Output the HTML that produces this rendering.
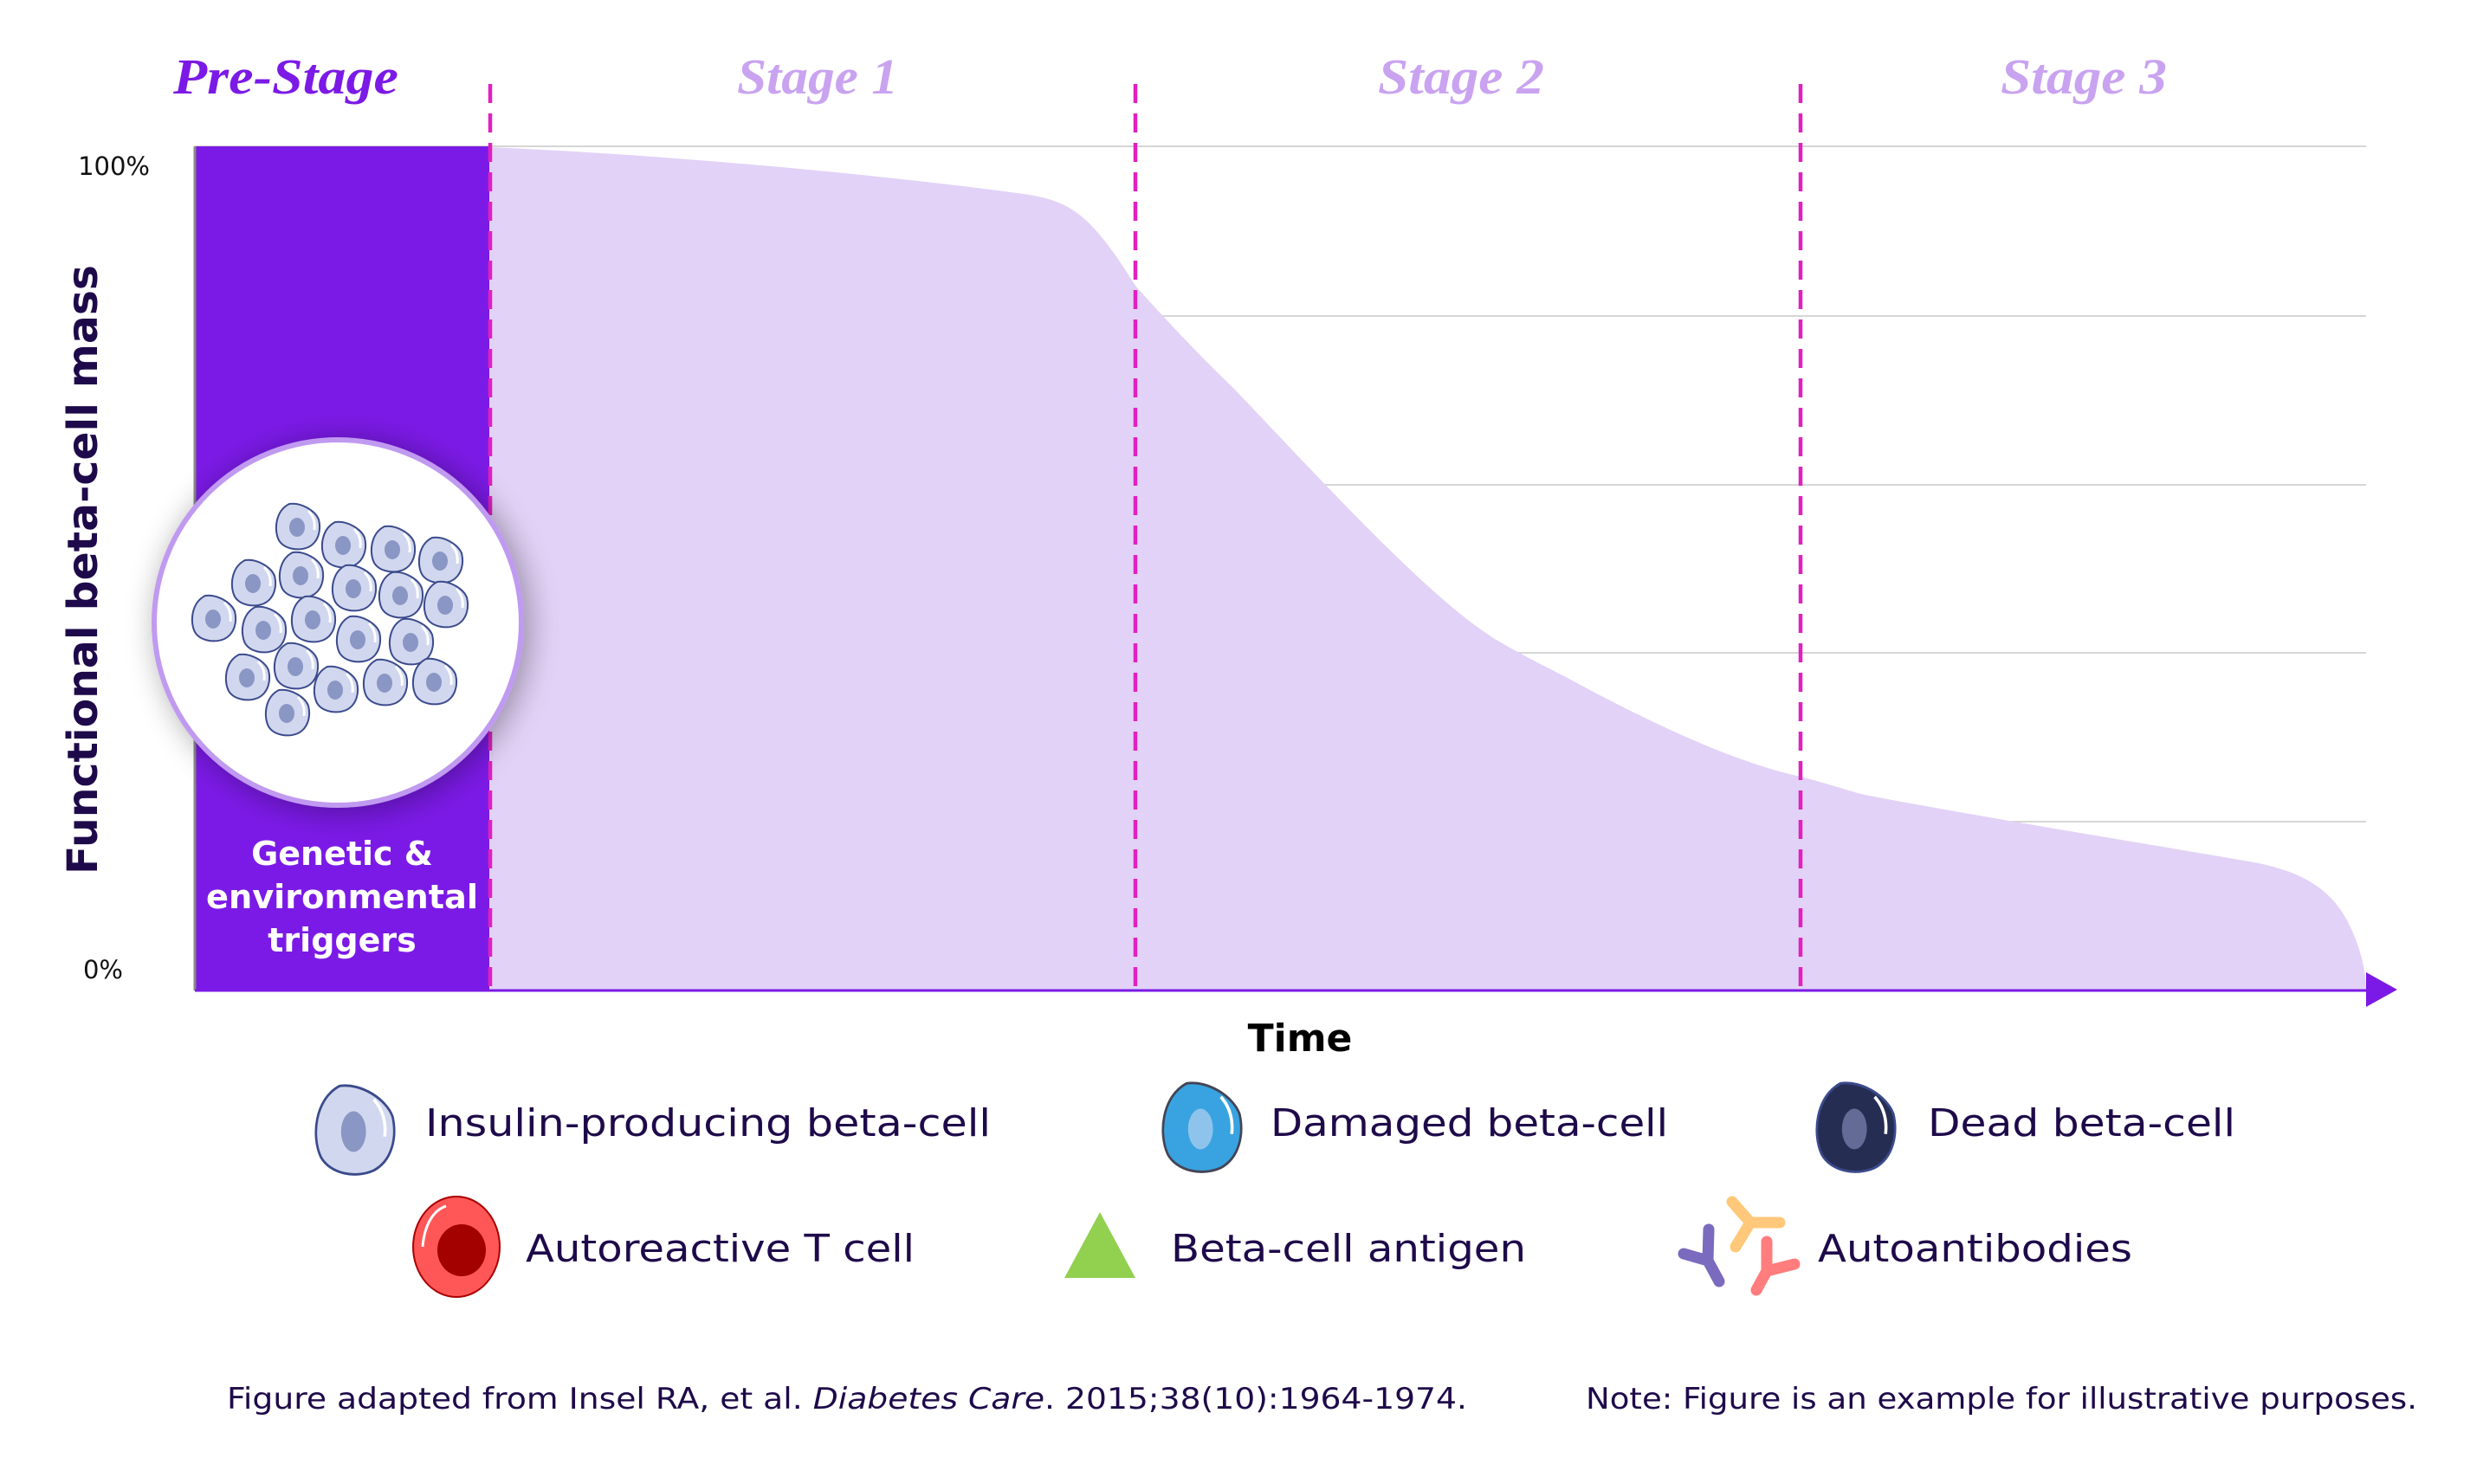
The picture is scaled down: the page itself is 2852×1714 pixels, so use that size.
<!DOCTYPE html>
<html><head><meta charset="utf-8"><style>html,body{margin:0;padding:0;background:#fff}svg{display:block}</style></head>
<body>
<svg width="2852" height="1714" viewBox="0 0 2852 1714" xmlns="http://www.w3.org/2000/svg" font-family="'DejaVu Sans','Liberation Sans',sans-serif">
<defs>
<filter id="sh" x="-30%" y="-30%" width="160%" height="160%"><feGaussianBlur in="SourceAlpha" stdDeviation="18"/><feOffset dx="6" dy="4"/><feComponentTransfer><feFuncA type="linear" slope="0.35"/></feComponentTransfer><feMerge><feMergeNode/><feMergeNode in="SourceGraphic"/></feMerge></filter>
<g id="cell"><path d="M-10,-26 C4,-28 20,-18 24,-8 C27,4 24,18 12,24 C0,29 -16,26 -22,16 C-28,4 -26,-18 -10,-26Z" fill="#d1d7ee" stroke="#3b4a8c" stroke-width="2"/><path d="M12,-18 C18,-12 20,-4 19,4" stroke="#fff" stroke-width="3" fill="none"/><ellipse cx="-1" cy="1" rx="9" ry="11" fill="#8a96c4"/></g>
</defs>
<g stroke="#c8c8c8" stroke-width="1.5">
<line x1="225" y1="169" x2="2732" y2="169"/><line x1="225" y1="365" x2="2732" y2="365"/><line x1="225" y1="560" x2="2732" y2="560"/><line x1="225" y1="754" x2="2732" y2="754"/><line x1="225" y1="949" x2="2732" y2="949"/>
</g>
<path d="M565,1144 L565,170 C800,180 1050,206 1182,224 C1235,232 1258,245 1311,330 C1360,385 1400,425 1425,449 C1540,570 1650,690 1726,738 C1760,758 1785,770 1808,782 C1900,832 2000,880 2079,897 C2110,905 2130,912 2153,918 C2300,946 2500,978 2608,997 C2670,1010 2700,1035 2718,1080 C2728,1105 2732,1125 2732,1144 Z" fill="#e2d2f7"/>
<rect x="225" y="169" width="340" height="975" fill="#7b1ae6"/>
<line x1="225" y1="169" x2="225" y2="1144" stroke="#888" stroke-width="3"/>
<line x1="225" y1="1144" x2="2740" y2="1144" stroke="#7b1ae6" stroke-width="3"/>
<polygon points="2732,1123 2768,1143 2732,1163" fill="#7b1ae6"/>
<g stroke="#e020c0" stroke-width="4.5" stroke-dasharray="22,12">
<line x1="566" y1="97" x2="566" y2="1144"/><line x1="1311" y1="97" x2="1311" y2="1144"/><line x1="2079" y1="97" x2="2079" y2="1144"/>
</g>
<g font-family="'Liberation Serif',serif" font-style="italic" font-weight="bold" font-size="58" text-anchor="middle">
<text x="330" y="108" fill="#7b1ae6" textLength="260" lengthAdjust="spacingAndGlyphs">Pre-Stage</text>
<text x="944" y="108" fill="#c9a3f0" textLength="186" lengthAdjust="spacingAndGlyphs">Stage 1</text>
<text x="1687" y="108" fill="#c9a3f0" textLength="192" lengthAdjust="spacingAndGlyphs">Stage 2</text>
<text x="2406" y="108" fill="#c9a3f0" textLength="192" lengthAdjust="spacingAndGlyphs">Stage 3</text>
</g>
<text x="173" y="202" font-size="29" text-anchor="end" fill="#111">100%</text>
<text x="142" y="1130" font-size="29" text-anchor="end" fill="#111">0%</text>
<text transform="translate(112,658) rotate(-90)" font-size="48" font-weight="bold" fill="#1e0a4a" text-anchor="middle" textLength="704" lengthAdjust="spacingAndGlyphs">Functional beta-cell mass</text>
<text x="1501" y="1214" font-size="44" font-weight="bold" fill="#000" text-anchor="middle">Time</text>
<g font-size="38" font-weight="bold" fill="#fff" text-anchor="middle">
<text x="395" y="999">Genetic &amp;</text>
<text x="395" y="1049" textLength="314" lengthAdjust="spacingAndGlyphs">environmental</text>
<text x="395" y="1099">triggers</text>
</g>
<ellipse cx="390" cy="719" rx="212" ry="211" fill="#fff" stroke="#c09af0" stroke-width="6" filter="url(#sh)"/>
<g>
<use href="#cell" x="344" y="608"/><use href="#cell" x="397" y="629"/><use href="#cell" x="454" y="634"/><use href="#cell" x="509" y="647"/>
<use href="#cell" x="293" y="673"/><use href="#cell" x="348" y="664"/><use href="#cell" x="409" y="679"/><use href="#cell" x="463" y="687"/><use href="#cell" x="515" y="698"/>
<use href="#cell" x="247" y="714"/><use href="#cell" x="305" y="727"/><use href="#cell" x="362" y="715"/><use href="#cell" x="414" y="738"/><use href="#cell" x="475" y="741"/>
<use href="#cell" x="286" y="782"/><use href="#cell" x="342" y="769"/><use href="#cell" x="388" y="796"/><use href="#cell" x="445" y="788"/><use href="#cell" x="502" y="787"/><use href="#cell" x="332" y="823"/>
</g>
<g fill="#1e0a4a" font-size="44">
<text x="491" y="1312" textLength="653" lengthAdjust="spacingAndGlyphs">Insulin-producing beta-cell</text>
<text x="1467" y="1312" textLength="459" lengthAdjust="spacingAndGlyphs">Damaged beta-cell</text>
<text x="2226" y="1312" textLength="355" lengthAdjust="spacingAndGlyphs">Dead beta-cell</text>
<text x="607" y="1457" textLength="449" lengthAdjust="spacingAndGlyphs">Autoreactive T cell</text>
<text x="1352" y="1457" textLength="410" lengthAdjust="spacingAndGlyphs">Beta-cell antigen</text>
<text x="2099" y="1457" textLength="363" lengthAdjust="spacingAndGlyphs">Autoantibodies</text>
</g>
<g transform="translate(410,1305) scale(1.8,1.95)"><path d="M-10,-26 C4,-28 20,-18 24,-8 C27,4 24,18 12,24 C0,29 -16,26 -22,16 C-28,4 -26,-18 -10,-26Z" fill="#d1d7ee" stroke="#3b4a8c" stroke-width="1.5"/><path d="M12,-18 C18,-12 20,-4 19,4" stroke="#fff" stroke-width="2" fill="none"/><ellipse cx="-1" cy="1" rx="8" ry="12" fill="#8a96c4"/></g>
<g transform="translate(1388,1302) scale(1.8,1.95)"><path d="M-10,-26 C4,-28 20,-18 24,-8 C27,4 24,18 12,24 C0,29 -16,26 -22,16 C-28,4 -26,-18 -10,-26Z" fill="#38a3e0" stroke="#445" stroke-width="1.5"/><path d="M12,-18 C18,-12 20,-4 19,4" stroke="#fff" stroke-width="2" fill="none"/><ellipse cx="-1" cy="1" rx="8" ry="12" fill="#8ec4ec"/></g>
<g transform="translate(2143,1302) scale(1.8,1.95)"><path d="M-10,-26 C4,-28 20,-18 24,-8 C27,4 24,18 12,24 C0,29 -16,26 -22,16 C-28,4 -26,-18 -10,-26Z" fill="#262d52" stroke="#3b4a8c" stroke-width="1.5"/><path d="M12,-18 C18,-12 20,-4 19,4" stroke="#fff" stroke-width="2" fill="none"/><ellipse cx="-1" cy="1" rx="8" ry="12" fill="#646b96"/></g>
<ellipse cx="527" cy="1440" rx="50" ry="58" fill="#ff5757" stroke="#a00" stroke-width="2"/>
<ellipse cx="533" cy="1444" rx="28" ry="30" fill="#a30000"/>
<path d="M488,1440 C490,1415 500,1398 515,1393" stroke="#fff" stroke-width="3" fill="none"/>
<polygon points="1270,1400 1311,1476 1229,1476" fill="#92d050"/>
<g stroke-width="13" stroke-linecap="round" fill="none">
<path d="M1973,1420 L1972,1456 L1985,1480 M1972,1456 L1944,1448" stroke="#7a6bbf"/>
<path d="M2000,1388 L2021,1412 L2055,1412 M2021,1412 L2004,1440" stroke="#ffc87a"/>
<path d="M2040,1434 L2040,1468 L2072,1460 M2040,1468 L2028,1490" stroke="#ff7d7d"/>
</g>
<g fill="#1e0a4a" font-size="34">
<text x="262" y="1627" textLength="1432" lengthAdjust="spacingAndGlyphs">Figure adapted from Insel RA, et al. <tspan font-style="italic">Diabetes Care</tspan>. 2015;38(10):1964-1974.</text>
<text x="1831" y="1627" textLength="960" lengthAdjust="spacingAndGlyphs">Note: Figure is an example for illustrative purposes.</text>
</g>
</svg>
</body></html>
